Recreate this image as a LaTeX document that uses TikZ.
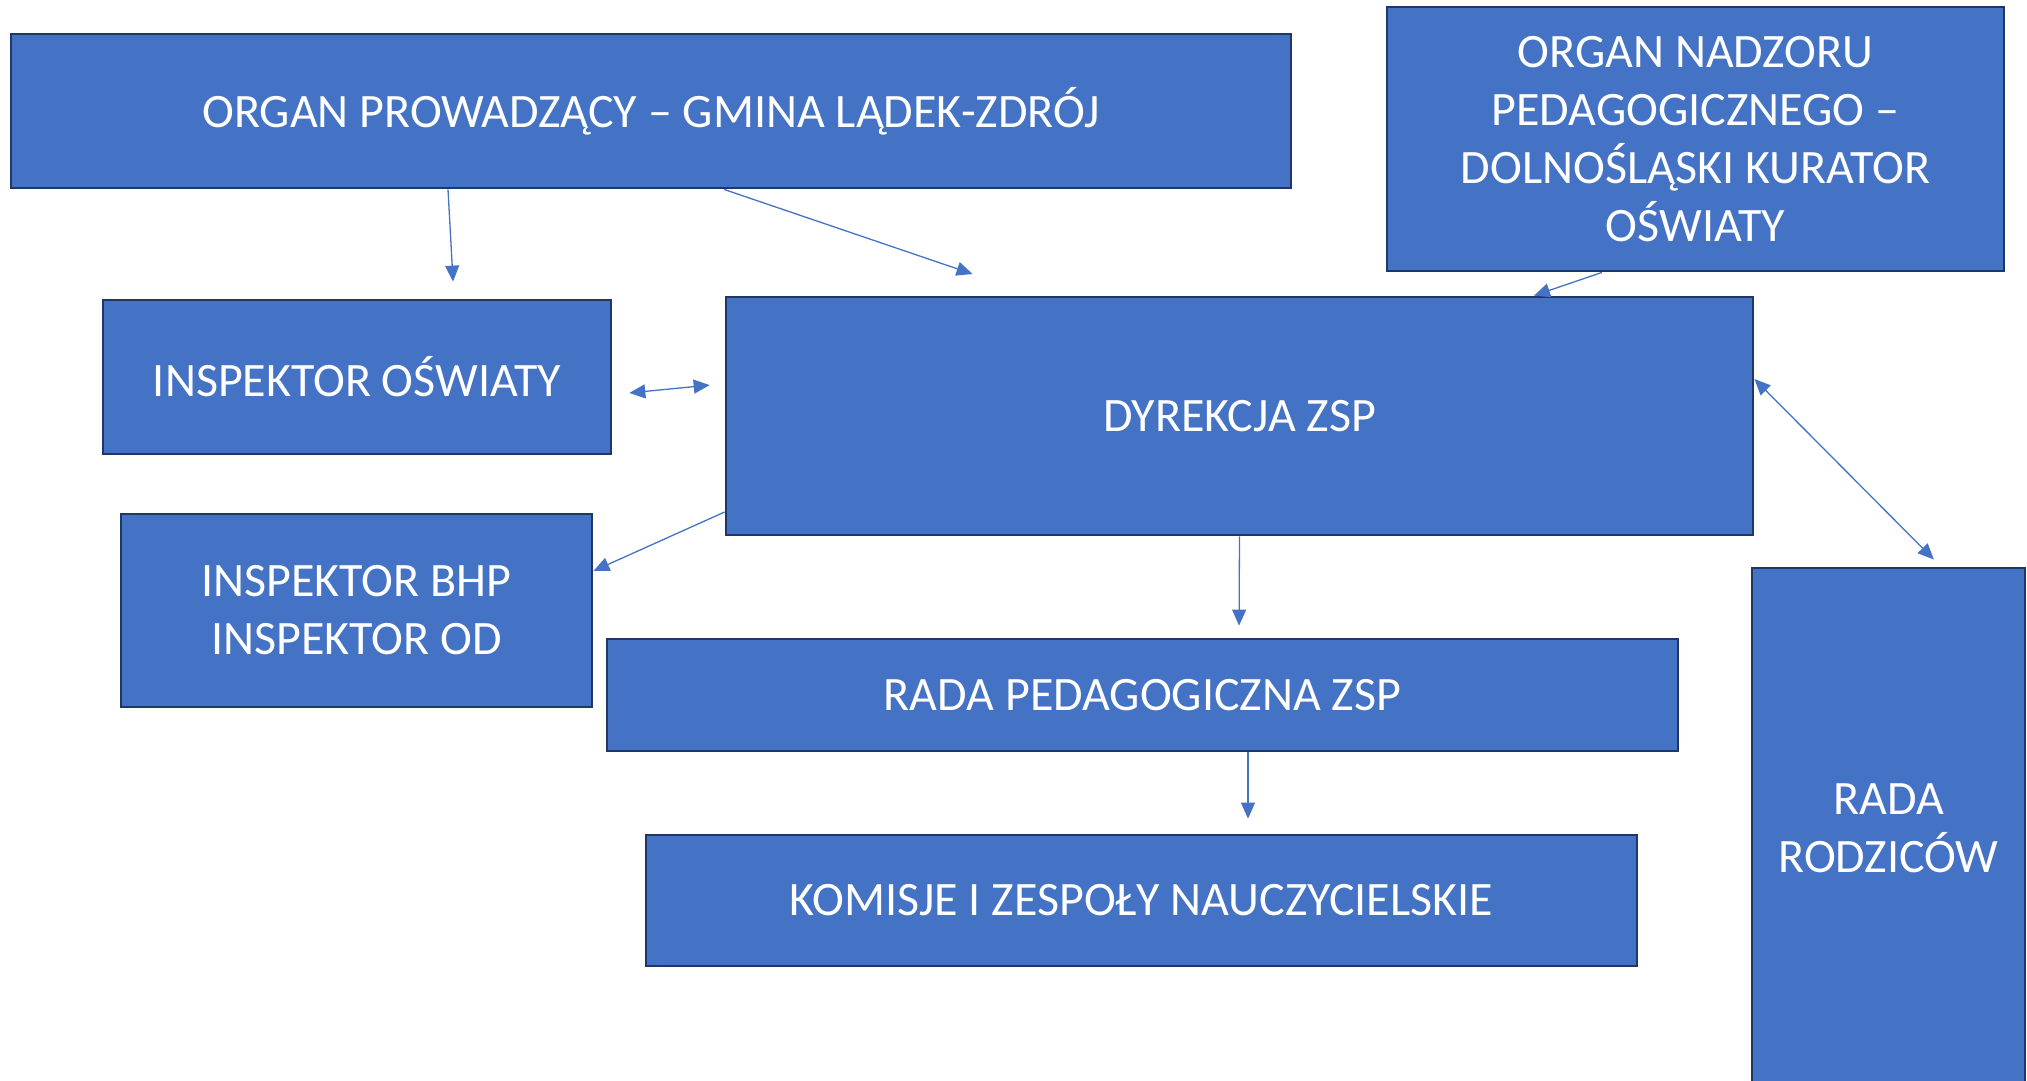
\documentclass[tikz,border=0pt]{standalone}
\usepackage{fontspec}
\setmainfont{Carlito}
\usetikzlibrary{arrows.meta}
\definecolor{boxblue}{HTML}{4472C4}
\definecolor{boxedge}{HTML}{1F3763}
\begin{document}
\begin{tikzpicture}[x=1pt,y=-1pt,
    unit/.style={draw=boxedge,line width=2.8pt,fill=boxblue,text=white,inner sep=0pt,
        align=center,font=\fontsize{48}{58}\selectfont},
    link/.style={draw=boxblue,line width=1.3pt,-{Triangle[length=16pt,width=14pt]}},
    both/.style={draw=boxblue,line width=1.3pt,{Triangle[length=16pt,width=14pt]}-{Triangle[length=16pt,width=14pt]}}]
\useasboundingbox (0,0) rectangle (2027,1080);
\node[unit,minimum width=1280pt,minimum height=154pt] (op) at (651,111) {ORGAN PROWADZĄCY – GMINA LĄDEK-ZDRÓJ};
\node[unit,minimum width=617pt,minimum height=264pt] (on) at (1695.5,139) {ORGAN NADZORU\\PEDAGOGICZNEGO –\\DOLNOŚLĄSKI KURATOR\\OŚWIATY};
\node[unit,minimum width=508pt,minimum height=154pt] (io) at (357,377) {INSPEKTOR OŚWIATY};
\node[unit,minimum width=1027pt,minimum height=238pt] (dz) at (1239.5,416) {DYREKCJA ZSP};
\node[unit,minimum width=471pt,minimum height=193pt] (bhp) at (356.5,610.5) {INSPEKTOR BHP\\INSPEKTOR OD};
\node[unit,minimum width=1071pt,minimum height=112pt] (rp) at (1142.5,695) {RADA PEDAGOGICZNA ZSP};
\node[unit,minimum width=991pt,minimum height=131pt] (kz) at (1141.5,900.5) {KOMISJE I ZESPOŁY NAUCZYCIELSKIE};
\node[unit,minimum width=273pt,minimum height=520pt] (rr) at (1888.5,828) {RADA\\RODZICÓW};
\draw[link,shorten >=17pt] ([xshift=-203pt]op.south) -- ([xshift=97pt]io.north);
\draw[link,shorten >=67pt] ([xshift=73pt]op.south) -- ([xshift=-203.5pt]dz.north);
\draw[both,shorten <=17pt,shorten >=15pt] ([yshift=-17.6pt]io.east) -- ([yshift=32.4pt]dz.west);
\draw[link] ([yshift=-96pt]dz.west) -- ([yshift=39.5pt]bhp.east);
\draw[link] ([xshift=-93.5pt]on.south) -- ([xshift=294.5pt]dz.north);
\draw[both,shorten >=10pt] ([yshift=37pt]dz.east) -- ([xshift=52.4pt]rr.north);
\draw[link,shorten >=12pt] (dz.south) -- ([xshift=96.5pt]rp.north);
\draw[link,shorten >=15pt] ([xshift=105.5pt]rp.south) -- ([xshift=106.5pt]kz.north);
\end{tikzpicture}
\end{document}
